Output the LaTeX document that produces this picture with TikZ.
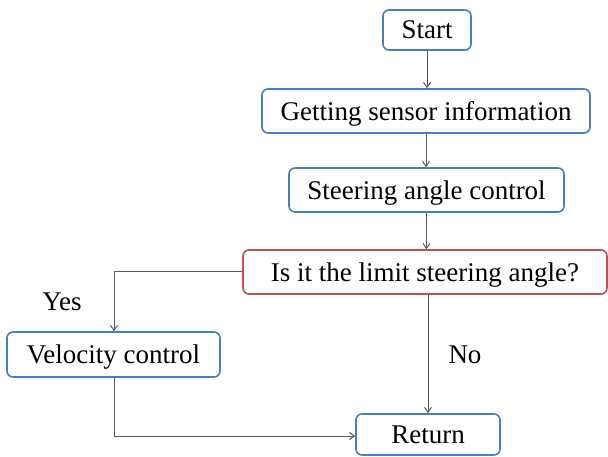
\documentclass[tikz,border=0pt]{standalone}
\usepackage{fontspec}
\setmainfont{Liberation Serif}
\usetikzlibrary{arrows.meta}
\definecolor{boxblue}{HTML}{4A7EBF}
\definecolor{boxred}{HTML}{C0504D}
\definecolor{linegray}{HTML}{595959}
\tikzset{
  flowbox/.style={draw=boxblue, line width=1.6pt, rounded corners=6pt, fill=white,
    inner sep=0pt, align=center, text depth=0pt, font=\fontsize{27}{31}\selectfont},
  decbox/.style={flowbox, draw=boxred},
  conn/.style={draw=linegray, line width=1pt, -{Straight Barb[length=5pt,width=7pt]}},
  lbl/.style={font=\fontsize{27}{31}\selectfont, inner sep=0pt}
}
\begin{document}
\begin{tikzpicture}[x=1pt,y=-1pt]
\useasboundingbox (0,0) rectangle (608,457);
\node[flowbox, minimum width=88pt, minimum height=40pt] (start) at (427,30) {Start};
\node[flowbox, minimum width=328pt, minimum height=44pt] (sensor) at (426,111) {Getting sensor information};
\node[flowbox, minimum width=275pt, minimum height=44pt] (steer) at (426.5,190) {Steering angle control};
\node[decbox, minimum width=364pt, minimum height=44pt] (dec) at (425,272) {Is it the limit steering angle?};
\node[flowbox, minimum width=213pt, minimum height=45pt] (vel) at (113.5,354.5) {Velocity control};
\node[flowbox, minimum width=144pt, minimum height=41pt] (ret) at (428,434.5) {Return};
\coordinate (c1) at (114,272);
\coordinate (c2) at (114,436);
\draw[conn] (start.south) -- (start.south |- sensor.north);
\draw[conn] (sensor.south) -- (sensor.south |- steer.north);
\draw[conn] (steer.south) -- (steer.south |- dec.north);
\draw[conn] (dec.west) -- (c1) -- (c1 |- vel.north);
\draw[conn] (vel.south -| c1) -- (c2) -- (c2 -| ret.west);
\draw[conn] (dec.south -| ret.north) -- (ret.north);
\node[lbl] (yes) at (62,302) {Yes};
\node[lbl] (no) at (465,355) {No};
\end{tikzpicture}
\end{document}
